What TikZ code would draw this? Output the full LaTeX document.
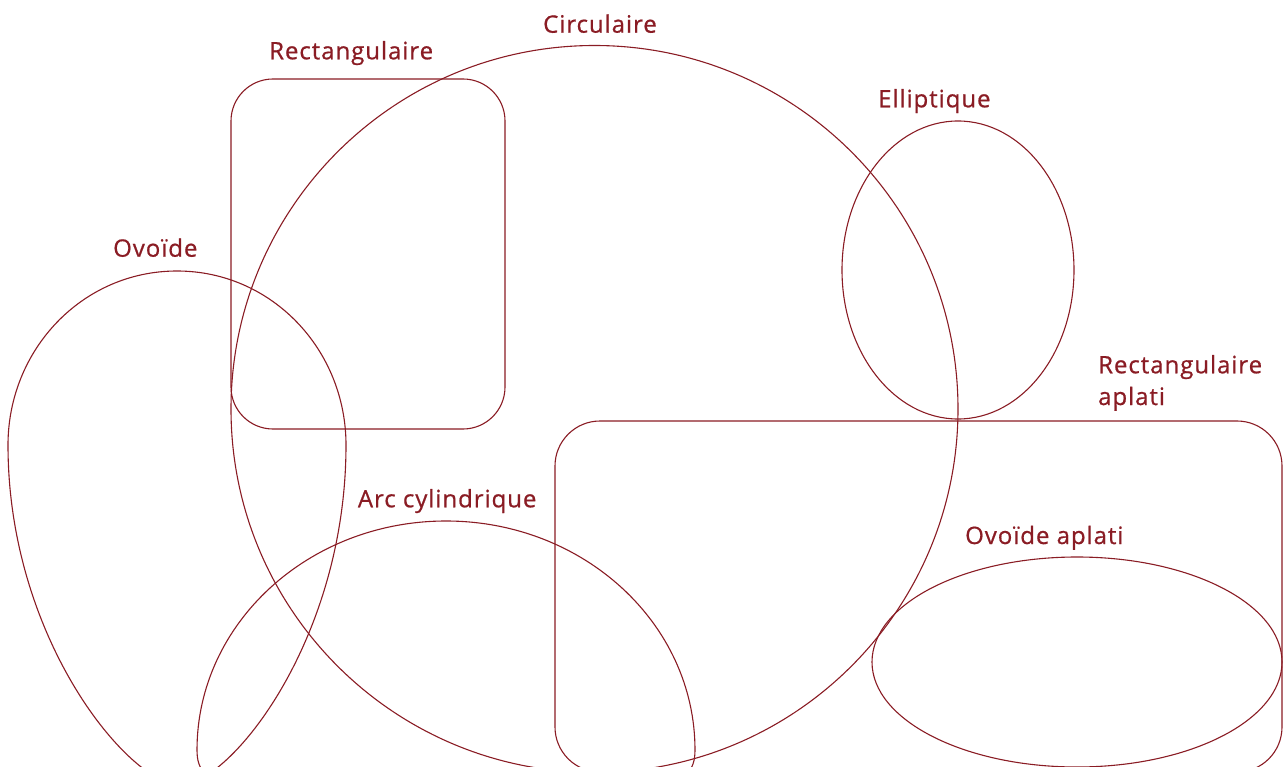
\documentclass[tikz,border=0pt]{standalone}
\usepackage{fontspec}
\setmainfont{Open Sans}[LetterSpace=4,FakeBold=0.7]
\definecolor{wine}{HTML}{8A1C24}
\begin{document}
\begin{tikzpicture}[x=1pt,y=-1pt,
  outline/.style={draw=wine,line width=1.1pt},
  lbl/.style={text=wine,font=\fontsize{24}{31.7}\selectfont,inner sep=0pt,anchor=base west}]
\useasboundingbox (0,0) rectangle (1283,767);
\begin{scope}
\clip (0,0) rectangle (1283,767);
% Circulaire
\draw[outline] (594.5,409) circle[radius=363.5];
% Rectangulaire
\draw[outline,rounded corners=42pt] (231,79) rectangle (505,429);
% Rectangulaire aplati
\draw[outline,rounded corners=45pt] (555,421) rectangle (1282,772);
% Elliptique
\draw[outline] (958,270) ellipse[x radius=116,y radius=149];
% Ovoide aplati
\draw[outline] (1077,662) ellipse[x radius=205,y radius=105];
% Ovoide
\draw[outline] (177,271) .. controls (272,271) and (346,350) .. (346,445)
  .. controls (346,640) and (230,785) .. (180,785)
  .. controls (130,785) and (8,640) .. (8,445)
  .. controls (8,350) and (82,271) .. (177,271) -- cycle;
% Arc cylindrique
\draw[outline] (197,750) arc[start angle=180,end angle=360,x radius=249,y radius=229]
  .. controls (695,772) and (685,778) .. (665,778) -- (227,778)
  .. controls (207,778) and (197,772) .. (197,750) -- cycle;
\end{scope}
\node[lbl] (circ) at (543,32.7) {Circulaire};
\node[lbl] (rect) at (269,59.3) {Rectangulaire};
\node[lbl] (ell) at (878,107.3) {Elliptique};
\node[lbl] (ovo) at (113,256.7) {Ovoïde};
\node[lbl] (rectaA) at (1098,373.3) {Rectangulaire};
\node[lbl] (rectaB) at (1098,405) {aplati};
\node[lbl] (arcl) at (357.7,507.3) {Arc cylindrique};
\node[lbl] (ovoa) at (965,544) {Ovoïde aplati};
\end{tikzpicture}
\end{document}
